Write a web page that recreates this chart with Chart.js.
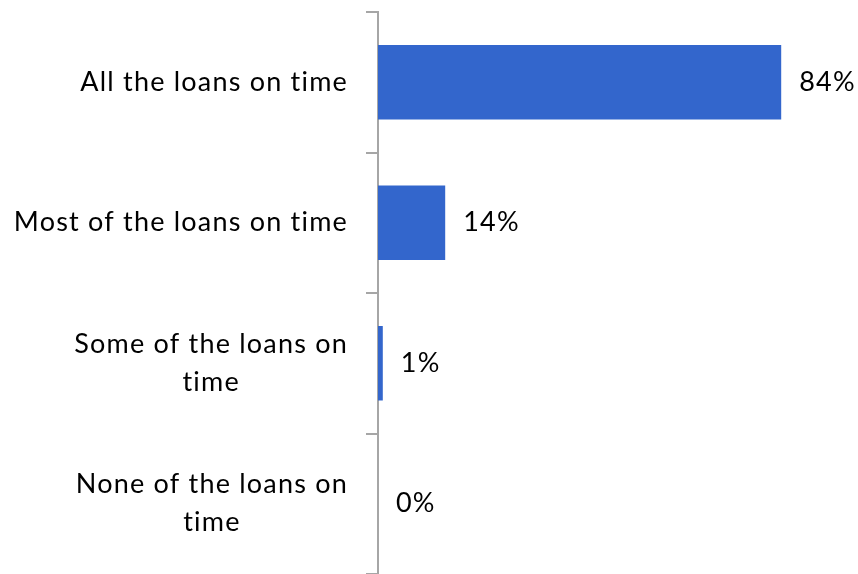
<!DOCTYPE html>
<html>
<head>
<meta charset="utf-8">
<script src="https://cdn.jsdelivr.net/npm/chart.js@4/dist/chart.umd.min.js"></script>
<style>
  html, body { margin: 0; padding: 0; background: #fff; }
  #wrap { width: 858px; height: 574px; }
</style>
</head>
<body>
<div id="wrap"><canvas id="loansChart"></canvas></div>
<script>
const categories = [
  "All the loans on time",
  "Most of the loans on time",
  ["Some of the loans on", "time"],
  ["None of the loans on", "time"]
];
const shares = [84, 14, 1, 0];
const valueLabels = ["84%", "14%", "1%", "0%"];

const fontFamily = "Lato, 'Open Sans', sans-serif";
const fontSize = 27;
const lineGap = 38;

function setFont(ctx) {
  ctx.font = fontSize + "px " + fontFamily;
  ctx.letterSpacing = "1.2px";
  ctx.fillStyle = "#000";
}

// category names: each block sits against the axis, lines centred inside it
const categoryText = {
  id: "categoryText",
  afterDraw(chart) {
    const ctx = chart.ctx;
    const yScale = chart.scales.y;
    const right = yScale.right - 30;
    ctx.save();
    setFont(ctx);
    ctx.textAlign = "center";
    ctx.textBaseline = "middle";
    categories.forEach((label, i) => {
      const lines = Array.isArray(label) ? label : [label];
      const widest = Math.max(...lines.map(l => ctx.measureText(l).width));
      const cx = right - widest / 2;
      const cy = yScale.getPixelForTick(i);
      lines.forEach((line, j) => {
        ctx.fillText(line, cx, cy + (j - (lines.length - 1) / 2) * lineGap);
      });
    });
    ctx.restore();
  }
};

// writes the percentage just past the end of each bar
const barValues = {
  id: "barValues",
  afterDatasetsDraw(chart) {
    const ctx = chart.ctx;
    const meta = chart.getDatasetMeta(0);
    ctx.save();
    setFont(ctx);
    ctx.textAlign = "left";
    ctx.textBaseline = "middle";
    meta.data.forEach((bar, i) => {
      ctx.fillText(valueLabels[i], bar.x + 18, bar.y);
    });
    ctx.restore();
  }
};

new Chart(document.getElementById("loansChart"), {
  type: "bar",
  data: {
    labels: categories,
    datasets: [{
      data: shares,
      backgroundColor: "#3366CC",
      categoryPercentage: 1,
      barPercentage: 0.53
    }]
  },
  options: {
    indexAxis: "y",
    responsive: true,
    maintainAspectRatio: false,
    animation: false,
    layout: { padding: { top: 12, right: 0, bottom: -2, left: 0 } },
    plugins: {
      legend: { display: false },
      tooltip: { enabled: false }
    },
    scales: {
      x: {
        display: false,
        min: 0,
        max: 100
      },
      y: {
        offset: true,
        grid: {
          offset: true,
          drawOnChartArea: false,
          tickLength: 12,
          color: "#A6A6A6",
          lineWidth: 2
        },
        border: { color: "#A6A6A6", width: 2 },
        ticks: { display: false },
        afterFit(scale) {
          scale.width = 378;
          scale.paddingTop = 0;
          scale.paddingBottom = 0;
        }
      }
    }
  },
  plugins: [barValues, categoryText]
});
</script>
</body>
</html>
